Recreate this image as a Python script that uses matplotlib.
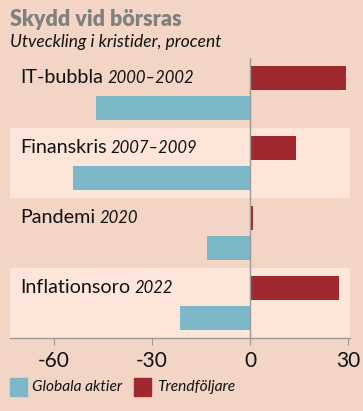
import matplotlib
matplotlib.use("Agg")
import matplotlib.pyplot as plt
from matplotlib.patches import Rectangle

categories = ["IT-bubbla", "Finanskris", "Pandemi", "Inflationsoro"]
years = ["2000–2002", "2007–2009", "2020", "2022"]
globala = [-47.1, -54.2, -13.2, -21.4]
trend = [29.4, 14.1, 0.8, 27.2]
xticks = [-60, -30, 0, 30]

BG = "#F2D5C4"
BAND = "#FEE5D9"
RED = "#A0282F"
BLUE = "#7DB8C8"
FONT = "Lato"

W, H = 363, 411
fig = plt.figure(figsize=(W / 100, H / 100), dpi=100, facecolor=BG)
ax = fig.add_axes([10 / W, 1 - 338 / H, 340 / W, 280 / H])
ax.set_facecolor(BG)
ax.set_xlim(-73.5, 30.6)
ax.set_ylim(len(categories) - 0.5, -0.5)

for i in range(len(categories)):
    if i % 2 == 1:
        ax.axhspan(i - 0.5, i + 0.5, color=BAND, zorder=0, lw=0)

ys = list(range(len(categories)))
bh = 0.335
off = 0.215
ax.barh([y - off for y in ys], trend, height=bh, color=RED, zorder=2, label="Trendföljare")
ax.barh([y + off for y in ys], globala, height=bh, color=BLUE, zorder=2, label="Globala aktier")
ax.axvline(0, color="#999999", lw=1, zorder=3)

for s in ["top", "right", "left"]:
    ax.spines[s].set_visible(False)
ax.spines["bottom"].set_color("#999999")
ax.spines["bottom"].set_linewidth(1)
ax.set_yticks([])
ax.set_xticks(xticks)
ax.set_xticklabels([str(t) for t in xticks], fontfamily=FONT, fontsize=15, color="#111111")
ax.tick_params(axis="x", length=5, color="#999999", pad=4)

fig.canvas.draw()
renderer = fig.canvas.get_renderer()
tr = matplotlib.transforms.blended_transform_factory(fig.transFigure, ax.transData)
for i, (c, yr) in enumerate(zip(categories, years)):
    t = ax.text(0.03, i - off, c, transform=ax.get_yaxis_transform(), fontfamily=FONT,
                fontsize=14.2, color="#111111", va="center", ha="left")
    bb = t.get_window_extent(renderer)
    x_fig = (bb.x1 + 4) / fig.dpi / fig.get_figwidth()
    ax.text(x_fig, i - off, yr, transform=tr, fontfamily=FONT, fontstyle="italic",
            fontsize=12, color="#111111", va="center", ha="left")

fig.text(10 / W, 1 - 19 / H, "Skydd vid börsras", fontfamily=FONT, fontweight="heavy",
         fontsize=15.5, color="#808080", va="center", ha="left")
fig.text(10 / W, 1 - 42 / H, "Utveckling i kristider, procent", fontfamily=FONT,
         fontstyle="italic", fontsize=12.5, color="#111111", va="center", ha="left")

# legend
fig.patches.append(Rectangle((10 / W, 1 - 396 / H), 17 / W, 18 / H, transform=fig.transFigure,
                             color=BLUE, figure=fig))
fig.text(32 / W, 1 - 387 / H, "Globala aktier", fontfamily=FONT, fontstyle="italic",
         fontsize=11.2, color="#111111", va="center", ha="left")
fig.patches.append(Rectangle((134 / W, 1 - 396 / H), 17 / W, 18 / H, transform=fig.transFigure,
                             color=RED, figure=fig))
fig.text(157 / W, 1 - 387 / H, "Trendföljare", fontfamily=FONT, fontstyle="italic",
         fontsize=11.2, color="#111111", va="center", ha="left")

fig.savefig("out.png", dpi=100, facecolor=BG)
